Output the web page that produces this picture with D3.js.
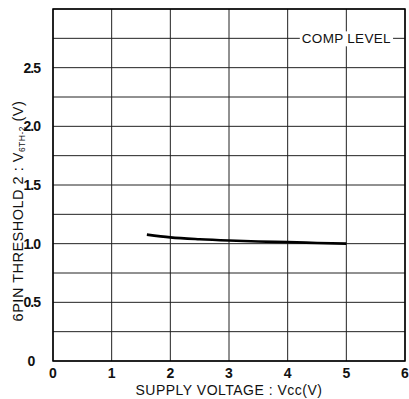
<!DOCTYPE html>
<html><head><meta charset="utf-8">
<script src="https://cdn.jsdelivr.net/npm/d3@7"></script>
<style>body{margin:0;background:#fff}svg{display:block}text{font-family:"Liberation Sans",Arial,sans-serif;fill:#111}</style>
</head><body><svg id="c" width="409" height="399"></svg>
<script>
const xTicks = [0,1,2,3,4,5,6];
const yTicks = [0,0.5,1.0,1.5,2.0,2.5];
const yTickLabels = ["0","0.5","1.0","1.5","2.0","2.5"];
const yGrid = [0,0.25,0.5,0.75,1,1.25,1.5,1.75,2,2.25,2.5,2.75,3];
const vcc = [1.6,2,2.5,3,3.5,4,4.5,5];
const vth = [1.077,1.054,1.038,1.027,1.019,1.013,1.006,1.0];
const seriesLabel = "COMP LEVEL";

const svg = d3.select("#c");
const x = d3.scaleLinear().domain([0,6]).range([53,405]);
const y = d3.scaleLinear().domain([0,3]).range([361,9]);

const g = svg.append("g");
g.selectAll("line.h").data(yGrid).join("line")
  .attr("x1",x(0)).attr("x2",x(6)).attr("y1",d=>y(d)).attr("y2",d=>y(d))
  .attr("stroke","#222").attr("stroke-width",1);
g.selectAll("line.v").data(xTicks).join("line")
  .attr("y1",y(0)).attr("y2",y(3)).attr("x1",d=>x(d)).attr("x2",d=>x(d))
  .attr("stroke","#222").attr("stroke-width",1);
g.append("rect").attr("x",x(0)).attr("y",y(3)).attr("width",x(6)-x(0)).attr("height",y(0)-y(3))
  .attr("fill","none").attr("stroke","#000").attr("stroke-width",1.5);

// label
const lt = g.append("text").attr("x",x(5)).attr("y",y(2.75)+5).attr("text-anchor","middle")
  .attr("font-size",13.5).attr("letter-spacing","0.3").text(seriesLabel);
const bb = lt.node().getBBox();
g.insert("rect","text").attr("x",bb.x-2).attr("y",bb.y).attr("width",bb.width+4).attr("height",bb.height).attr("fill","#fff");

g.append("path").datum(vcc.map((v,i)=>[v,vth[i]]))
  .attr("d",d3.line().x(d=>x(d[0])).y(d=>y(d[1])).curve(d3.curveMonotoneX))
  .attr("fill","none").attr("stroke","#000").attr("stroke-width",2.6);

// axis labels
g.selectAll("text.xt").data(xTicks).join("text").attr("class","xt")
  .attr("x",d=>x(d)).attr("y",378).attr("text-anchor","middle").attr("font-size",14).attr("font-weight","bold")
  .text(d=>d);
g.selectAll("text.yt").data(yTicks).join("text").attr("class","yt")
  .attr("x",d=>d===0?31:40).attr("y",d=>y(d)+5)
  .attr("text-anchor",d=>d===0?"middle":"end").attr("font-size",14).attr("font-weight","bold")
  .attr("letter-spacing","-1")
  .text((d,i)=>yTickLabels[i]);

svg.append("text").attr("x",229).attr("y",395).attr("text-anchor","middle").attr("font-size",14)
  .attr("letter-spacing","0.5").text("SUPPLY VOLTAGE : Vcc(V)");

const yt = svg.append("text").attr("transform","translate(23,211) rotate(-90)").attr("text-anchor","middle")
  .attr("font-size",14.5).attr("letter-spacing","0.5");
yt.append("tspan").text("6PIN THRESHOLD 2 : V");
yt.append("tspan").attr("font-size",8.5).attr("dy",1.5).text("6TH-2");
yt.append("tspan").attr("dy",-1.5).text(" (V)");
</script></body></html>
